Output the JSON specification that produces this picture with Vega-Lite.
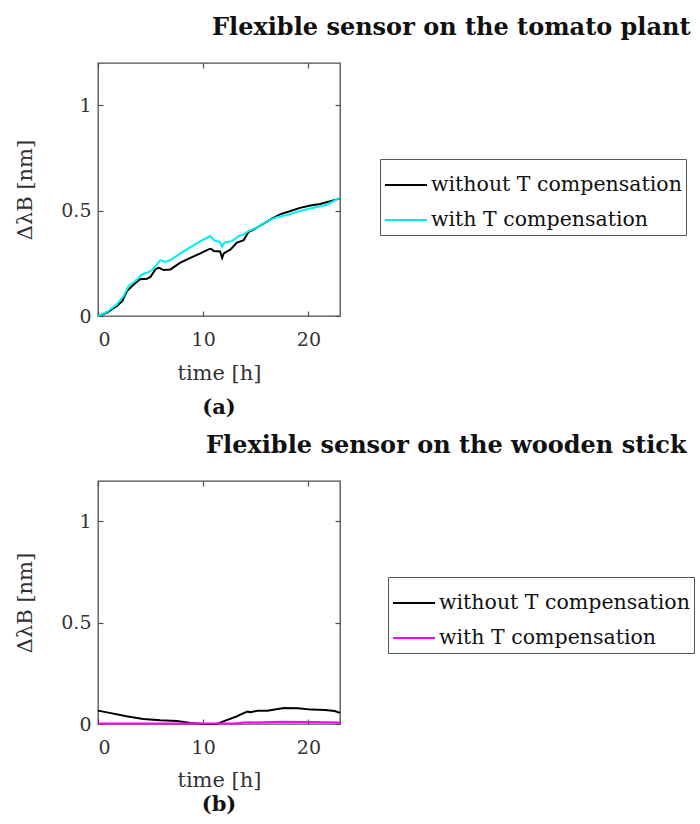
{
  "$schema": "https://vega.github.io/schema/vega-lite/v6.json",
  "padding": {"left": 14, "top": 15, "right": 2, "bottom": 2},
  "autosize": {"type": "pad"},
  "spacing": 14,
  "resolve": {"scale": {"color": "independent"}},
  "config": {
    "font": "DejaVu Serif",
    "view": {"stroke": "#4d4d4d", "strokeWidth": 1.3},
    "axis": {
      "domain": false, "grid": false,
      "tickSize": -5, "tickColor": "#4d4d4d", "tickWidth": 1.2,
      "labelFont": "DejaVu Serif", "labelFontSize": 19, "labelColor": "#333333",
      "titleFont": "DejaVu Serif", "titleFontSize": 21, "titleFontWeight": "normal", "titleColor": "#333333"
    },
    "legend": {
      "labelFont": "DejaVu Serif", "labelFontSize": 20.5, "labelColor": "#111111",
      "strokeColor": "#555555", "padding": 4, "rowPadding": 2,
      "symbolType": "stroke", "symbolSize": 1764, "symbolStrokeWidth": 2, "labelOffset": 3,
      "labelLimit": 400
    },
    "title": {"font": "DejaVu Serif", "fontWeight": "bold", "color": "#111111"}
  },
  "datasets": {
    "a": [
      {"series": "without T compensation", "t": 0, "v": 0},
      {"series": "without T compensation", "t": 0.86, "v": 0.016},
      {"series": "without T compensation", "t": 1.8, "v": 0.047},
      {"series": "without T compensation", "t": 2.3, "v": 0.071},
      {"series": "without T compensation", "t": 2.76, "v": 0.118},
      {"series": "without T compensation", "t": 3.4, "v": 0.15},
      {"series": "without T compensation", "t": 4.0, "v": 0.174},
      {"series": "without T compensation", "t": 4.66, "v": 0.177},
      {"series": "without T compensation", "t": 5.0, "v": 0.186},
      {"series": "without T compensation", "t": 5.45, "v": 0.221},
      {"series": "without T compensation", "t": 5.77, "v": 0.229},
      {"series": "without T compensation", "t": 6.24, "v": 0.218},
      {"series": "without T compensation", "t": 6.88, "v": 0.221},
      {"series": "without T compensation", "t": 7.83, "v": 0.253},
      {"series": "without T compensation", "t": 8.78, "v": 0.276},
      {"series": "without T compensation", "t": 9.73, "v": 0.297},
      {"series": "without T compensation", "t": 10.5, "v": 0.316},
      {"series": "without T compensation", "t": 10.74, "v": 0.319},
      {"series": "without T compensation", "t": 11.0, "v": 0.308},
      {"series": "without T compensation", "t": 11.6, "v": 0.306},
      {"series": "without T compensation", "t": 11.8, "v": 0.276},
      {"series": "without T compensation", "t": 11.95, "v": 0.297},
      {"series": "without T compensation", "t": 12.6, "v": 0.316},
      {"series": "without T compensation", "t": 13.2, "v": 0.348},
      {"series": "without T compensation", "t": 13.85, "v": 0.36},
      {"series": "without T compensation", "t": 14.3, "v": 0.398},
      {"series": "without T compensation", "t": 14.8, "v": 0.411},
      {"series": "without T compensation", "t": 15.4, "v": 0.427},
      {"series": "without T compensation", "t": 16.4, "v": 0.458},
      {"series": "without T compensation", "t": 17.3, "v": 0.482},
      {"series": "without T compensation", "t": 18.3, "v": 0.498},
      {"series": "without T compensation", "t": 19.2, "v": 0.513},
      {"series": "without T compensation", "t": 20.2, "v": 0.524},
      {"series": "without T compensation", "t": 21.1, "v": 0.531},
      {"series": "without T compensation", "t": 22.1, "v": 0.545},
      {"series": "without T compensation", "t": 23.0, "v": 0.558},
      {"series": "with T compensation", "t": 0, "v": 0},
      {"series": "with T compensation", "t": 0.86, "v": 0.019},
      {"series": "with T compensation", "t": 1.8, "v": 0.055},
      {"series": "with T compensation", "t": 2.44, "v": 0.095},
      {"series": "with T compensation", "t": 2.9, "v": 0.142},
      {"series": "with T compensation", "t": 3.55, "v": 0.166},
      {"series": "with T compensation", "t": 4.18, "v": 0.197},
      {"series": "with T compensation", "t": 4.66, "v": 0.205},
      {"series": "with T compensation", "t": 5.13, "v": 0.218},
      {"series": "with T compensation", "t": 5.6, "v": 0.245},
      {"series": "with T compensation", "t": 5.93, "v": 0.265},
      {"series": "with T compensation", "t": 6.4, "v": 0.256},
      {"series": "with T compensation", "t": 6.88, "v": 0.265},
      {"series": "with T compensation", "t": 7.83, "v": 0.297},
      {"series": "with T compensation", "t": 8.78, "v": 0.327},
      {"series": "with T compensation", "t": 9.73, "v": 0.355},
      {"series": "with T compensation", "t": 10.68, "v": 0.379},
      {"series": "with T compensation", "t": 11.0, "v": 0.36},
      {"series": "with T compensation", "t": 11.6, "v": 0.351},
      {"series": "with T compensation", "t": 11.8, "v": 0.329},
      {"series": "with T compensation", "t": 12.0, "v": 0.348},
      {"series": "with T compensation", "t": 12.74, "v": 0.355},
      {"series": "with T compensation", "t": 13.37, "v": 0.379},
      {"series": "with T compensation", "t": 13.85, "v": 0.387},
      {"series": "with T compensation", "t": 14.3, "v": 0.403},
      {"series": "with T compensation", "t": 15.1, "v": 0.419},
      {"series": "with T compensation", "t": 16.07, "v": 0.45},
      {"series": "with T compensation", "t": 17.0, "v": 0.469},
      {"series": "with T compensation", "t": 18.0, "v": 0.479},
      {"series": "with T compensation", "t": 18.9, "v": 0.494},
      {"series": "with T compensation", "t": 19.87, "v": 0.506},
      {"series": "with T compensation", "t": 20.8, "v": 0.517},
      {"series": "with T compensation", "t": 21.8, "v": 0.529},
      {"series": "with T compensation", "t": 23.0, "v": 0.561}
    ],
    "b": [
      {"series": "without T compensation", "t": 0, "v": 0.066},
      {"series": "without T compensation", "t": 1.1, "v": 0.055},
      {"series": "without T compensation", "t": 2.7, "v": 0.038},
      {"series": "without T compensation", "t": 4.3, "v": 0.025},
      {"series": "without T compensation", "t": 5.9, "v": 0.018},
      {"series": "without T compensation", "t": 7.5, "v": 0.015},
      {"series": "without T compensation", "t": 8.8, "v": 0.005},
      {"series": "without T compensation", "t": 10.06, "v": 0.0},
      {"series": "without T compensation", "t": 11.3, "v": 0.0},
      {"series": "without T compensation", "t": 12.1, "v": 0.017},
      {"series": "without T compensation", "t": 13.1, "v": 0.036},
      {"series": "without T compensation", "t": 13.9, "v": 0.055},
      {"series": "without T compensation", "t": 14.2, "v": 0.061},
      {"series": "without T compensation", "t": 14.5, "v": 0.058},
      {"series": "without T compensation", "t": 15.2, "v": 0.066},
      {"series": "without T compensation", "t": 16.1, "v": 0.066},
      {"series": "without T compensation", "t": 17.1, "v": 0.074},
      {"series": "without T compensation", "t": 17.7, "v": 0.079},
      {"series": "without T compensation", "t": 19.0, "v": 0.078},
      {"series": "without T compensation", "t": 20.3, "v": 0.071},
      {"series": "without T compensation", "t": 21.6, "v": 0.069},
      {"series": "without T compensation", "t": 22.5, "v": 0.064},
      {"series": "without T compensation", "t": 23.0, "v": 0.055},
      {"series": "with T compensation", "t": 0, "v": 0.003},
      {"series": "with T compensation", "t": 5, "v": 0.003},
      {"series": "with T compensation", "t": 10, "v": 0.002},
      {"series": "with T compensation", "t": 13, "v": 0.003},
      {"series": "with T compensation", "t": 14.2, "v": 0.009},
      {"series": "with T compensation", "t": 15, "v": 0.008},
      {"series": "with T compensation", "t": 17.5, "v": 0.011},
      {"series": "with T compensation", "t": 20, "v": 0.01},
      {"series": "with T compensation", "t": 23, "v": 0.008}
    ]
  },
  "vconcat": [
    {
      "title": {"text": "Flexible sensor on the tomato plant", "anchor": "start", "frame": "group", "dx": 114, "fontSize": 24, "offset": 22},
      "resolve": {"scale": {"color": "independent"}},
      "vconcat": [
        {
          "title": {"text": "(a)", "orient": "bottom", "anchor": "middle", "frame": "group", "fontSize": 21, "offset": 14},
          "width": 242, "height": 253,
          "data": {"name": "a"},
          "layer": [
            {
              "mark": {"type": "line", "strokeWidth": 2},
              "encoding": {
                "x": {"field": "t", "type": "quantitative", "scale": {"domain": [0, 23], "nice": false}, "axis": {"orient": "bottom", "values": [0, 10, 20], "format": "d", "title": "time [h]", "labelPadding": 19, "titlePadding": 13}},
                "y": {"field": "v", "type": "quantitative", "scale": {"domain": [0, 1.2], "nice": false}, "axis": {"orient": "left", "values": [0, 0.5, 1], "format": "~r", "title": "ΔλB [nm]", "labelPadding": 12, "titlePadding": 25}},
                "color": {"field": "series", "type": "nominal", "sort": ["without T compensation", "with T compensation"],
                  "scale": {"domain": ["without T compensation", "with T compensation"], "range": ["#000000", "#00f0f0"]},
                  "legend": {"title": null, "orient": "none", "legendX": 282, "legendY": 96}}
              }
            },
            {
              "mark": {"type": "line", "opacity": 0},
              "encoding": {
                "x": {"field": "t", "type": "quantitative", "axis": {"orient": "top", "values": [0, 10, 20], "labels": false, "title": null}},
                "y": {"field": "v", "type": "quantitative", "axis": {"orient": "right", "values": [0, 0.5, 1], "labels": false, "title": null}},
                "detail": {"field": "series"}
              }
            }
          ],
          "resolve": {"axis": {"x": "independent", "y": "independent"}}
        }
      ]
    },
    {
      "title": {"text": "Flexible sensor on the wooden stick", "anchor": "start", "frame": "group", "dx": 108, "fontSize": 24, "offset": 22},
      "resolve": {"scale": {"color": "independent"}},
      "vconcat": [
        {
          "title": {"text": "(b)", "orient": "bottom", "anchor": "middle", "frame": "group", "fontSize": 21, "offset": 4},
          "width": 242, "height": 243,
          "data": {"name": "b"},
          "layer": [
            {
              "mark": {"type": "line", "strokeWidth": 2},
              "encoding": {
                "x": {"field": "t", "type": "quantitative", "scale": {"domain": [0, 23], "nice": false}, "axis": {"orient": "bottom", "values": [0, 10, 20], "format": "d", "title": "time [h]", "labelPadding": 19, "titlePadding": 12}},
                "y": {"field": "v", "type": "quantitative", "scale": {"domain": [0, 1.2], "nice": false}, "axis": {"orient": "left", "values": [0, 0.5, 1], "format": "~r", "title": "ΔλB [nm]", "labelPadding": 12, "titlePadding": 25}},
                "color": {"field": "series", "type": "nominal", "sort": ["without T compensation", "with T compensation"],
                  "scale": {"domain": ["without T compensation", "with T compensation"], "range": ["#000000", "#ff00ff"]},
                  "legend": {"title": null, "orient": "none", "legendX": 290, "legendY": 96}}
              }
            },
            {
              "mark": {"type": "line", "opacity": 0},
              "encoding": {
                "x": {"field": "t", "type": "quantitative", "axis": {"orient": "top", "values": [0, 10, 20], "labels": false, "title": null}},
                "y": {"field": "v", "type": "quantitative", "axis": {"orient": "right", "values": [0, 0.5, 1], "labels": false, "title": null}},
                "detail": {"field": "series"}
              }
            }
          ],
          "resolve": {"axis": {"x": "independent", "y": "independent"}}
        }
      ]
    }
  ]
}
